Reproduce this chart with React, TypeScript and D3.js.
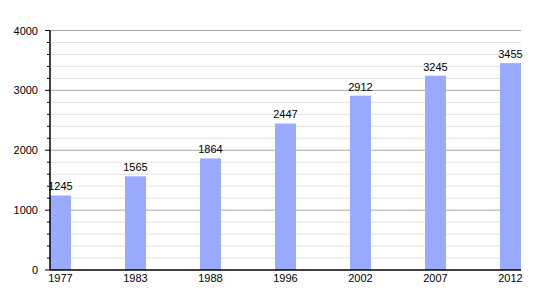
import React from "react";
import * as d3 from "d3";

const years = ["1977", "1983", "1988", "1996", "2002", "2007", "2012"];
const population = [1245, 1565, 1864, 2447, 2912, 3245, 3455];
const yTicks = [0, 1000, 2000, 3000, 4000];

export default function App() {
  const W = 550, H = 300;
  const left = 50, right = 521, top = 30.5, bottom = 270;
  const barW = 21;
  const x = d3.scalePoint<string>().domain(years).range([left, 500]);
  const y = d3.scaleLinear().domain([0, 4000]).range([bottom, top]);
  const minor = d3.range(0, 4001, 200).filter((v) => v % 1000 !== 0);
  const font = "Liberation Sans, Arial, sans-serif";
  return (
    <svg width={W} height={H} style={{ position: "absolute", left: 0, top: 0, background: "#fff" }} fontFamily={font}>
      {minor.map((v) => (
        <g key={"m" + v}>
          <line x1={left} x2={right} y1={y(v)} y2={y(v)} stroke="#e2e2e2" strokeWidth={1} />
          <line x1={left - 3} x2={left} y1={y(v)} y2={y(v)} stroke="#000" strokeWidth={1} />
        </g>
      ))}
      {yTicks.map((v) => (
        <g key={"M" + v}>
          {v > 0 && <line x1={left} x2={right} y1={y(v)} y2={y(v)} stroke="#a8a8a8" strokeWidth={1} />}
          <line x1={left - 5} x2={left} y1={y(v)} y2={y(v)} stroke="#000" strokeWidth={1} />
          <text x={left - 12} y={y(v) + 4} fontSize={11} textAnchor="end" fill="#000">{v}</text>
        </g>
      ))}
      {years.map((yr, i) => {
        const bx = x(yr)!;
        return (
          <g key={yr}>
            <rect x={bx} y={y(population[i])} width={barW} height={bottom - y(population[i])} fill="#9aabff" />
            <text x={bx + barW / 2} y={y(population[i]) - 5} fontSize={11} textAnchor="middle" fill="#000">{population[i]}</text>
            <text x={bx + barW / 2} y={bottom + 12} fontSize={11} textAnchor="middle" fill="#000">{yr}</text>
          </g>
        );
      })}
      <line x1={left} x2={left} y1={top} y2={bottom} stroke="#000" strokeWidth={1.5} />
      <line x1={left} x2={right} y1={bottom} y2={bottom} stroke="#000" strokeWidth={1.5} />
    </svg>
  );
}
